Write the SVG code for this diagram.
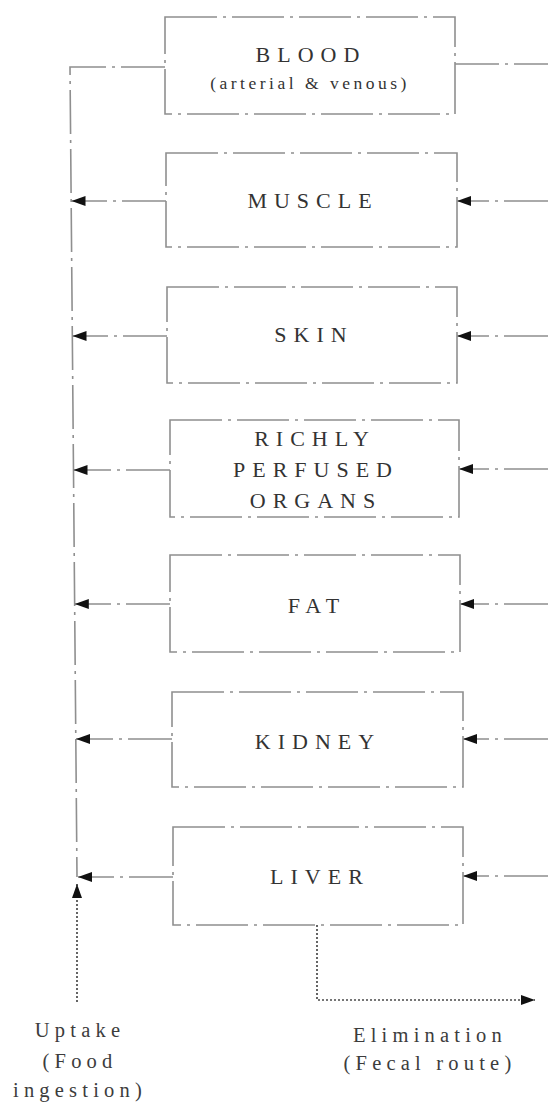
<svg xmlns="http://www.w3.org/2000/svg" width="548" height="1106" viewBox="0 0 548 1106">
<style>
  .box { fill: #ffffff; stroke: #8f8f8f; stroke-width: 1.6; stroke-dasharray: 52 6 3 6; }
  .lbl { font-family: "Liberation Serif", "Times New Roman", serif; font-size: 22px; letter-spacing: 7px; fill: #333333; text-anchor: middle; }
  .sub { font-family: "Liberation Serif", "Times New Roman", serif; font-size: 17.5px; letter-spacing: 3.5px; fill: #333333; text-anchor: middle; }
  .note { font-family: "Liberation Serif", "Times New Roman", serif; font-size: 20.5px; letter-spacing: 5.2px; fill: #3c3c3c; text-anchor: middle; }
  .flow { fill: none; stroke: #8f8f8f; stroke-width: 1.6; stroke-dasharray: 44 6 3 6; }
  .dot { fill: none; stroke: #4a4a4a; stroke-width: 1.7; stroke-dasharray: 2 2; }
</style>
<defs>
  <marker id="ah" markerUnits="userSpaceOnUse" markerWidth="16" markerHeight="12" refX="14" refY="5.5" orient="auto">
    <path d="M0,0.5 L14,5.5 L0,10.5 Z" fill="#111111"/>
  </marker>
</defs>
<rect width="548" height="1106" fill="#ffffff"/>

<g id="connectors">
  <path class="flow" d="M165,67 L70,67 L77,877"/>
  <path class="flow" d="M455,64 L548,64"/>
  <path class="flow" d="M166,201 L71.5,201" marker-end="url(#ah)"/>
  <path class="flow" d="M548,201 L457,201" marker-end="url(#ah)"/>
  <path class="flow" d="M167,336 L72.5,336" marker-end="url(#ah)"/>
  <path class="flow" d="M548,336 L457,336" marker-end="url(#ah)"/>
  <path class="flow" d="M170,470 L73.5,470" marker-end="url(#ah)"/>
  <path class="flow" d="M548,469 L459,469" marker-end="url(#ah)"/>
  <path class="flow" d="M170,604 L74.8,604" marker-end="url(#ah)"/>
  <path class="flow" d="M548,604 L460,604" marker-end="url(#ah)"/>
  <path class="flow" d="M172,739 L76,739" marker-end="url(#ah)"/>
  <path class="flow" d="M548,739 L463,739" marker-end="url(#ah)"/>
  <path class="flow" d="M173,877 L78,877" marker-end="url(#ah)"/>
  <path class="flow" d="M548,876 L463,876" marker-end="url(#ah)"/>
  <path class="dot" d="M77,1002 L77,884" marker-end="url(#ah)"/>
  <path class="dot" d="M317,925 L317,1000 L535,1000" marker-end="url(#ah)"/>
</g>

<g id="blood">
  <rect class="box" x="165" y="17" width="290" height="97"/>
  <text class="lbl" x="311" y="62">BLOOD</text>
  <text class="sub" x="310" y="89">(arterial &amp; venous)</text>
</g>
<g id="muscle">
  <rect class="box" x="166" y="153" width="291" height="94"/>
  <text class="lbl" x="313" y="208">MUSCLE</text>
</g>
<g id="skin">
  <rect class="box" x="167" y="287" width="290" height="96"/>
  <text class="lbl" x="314" y="342">SKIN</text>
</g>
<g id="richly-perfused-organs">
  <rect class="box" x="170" y="420" width="289" height="97"/>
  <text class="lbl" x="315" y="446">RICHLY</text>
  <text class="lbl" x="316" y="477">PERFUSED</text>
  <text class="lbl" x="316" y="508">ORGANS</text>
</g>
<g id="fat">
  <rect class="box" x="170" y="555" width="290" height="97"/>
  <text class="lbl" x="317" y="613">FAT</text>
</g>
<g id="kidney">
  <rect class="box" x="172" y="692" width="291" height="95"/>
  <text class="lbl" x="318" y="749">KIDNEY</text>
</g>
<g id="liver">
  <rect class="box" x="173" y="827" width="290" height="98"/>
  <text class="lbl" x="320" y="884">LIVER</text>
</g>

<g id="uptake">
  <text class="note" x="80" y="1037">Uptake</text>
  <text class="note" x="80" y="1068">(Food</text>
  <text class="note" x="80" y="1097">ingestion)</text>
</g>
<g id="elimination">
  <text class="note" x="430" y="1042">Elimination</text>
  <text class="note" x="430" y="1070">(Fecal route)</text>
</g>
</svg>
